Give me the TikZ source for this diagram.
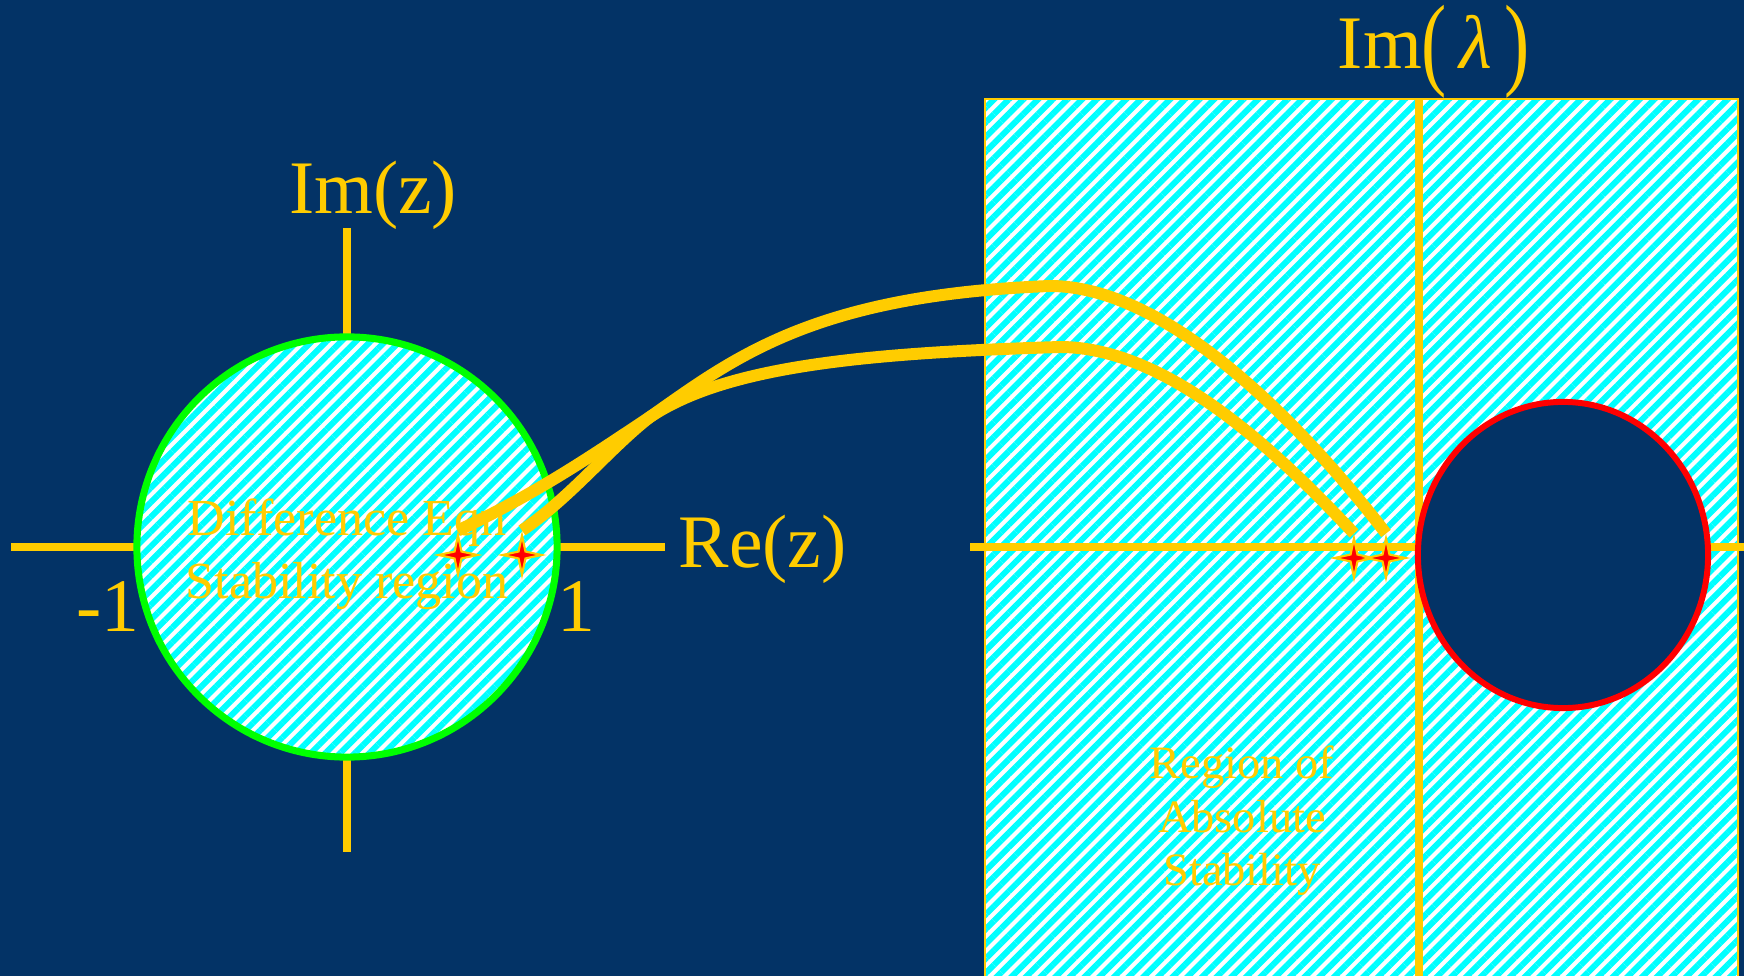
\documentclass[tikz,border=0pt]{standalone}
\usepackage{fontspec}
\setmainfont{Liberation Serif}
\usetikzlibrary{shapes.geometric,patterns.meta}
\definecolor{Navy}{RGB}{3,51,102}
\definecolor{Gold}{RGB}{255,204,0}
\definecolor{Aqua}{RGB}{0,255,255}
\newcommand{\tallparen}[1]{\raisebox{-2.4pt}{\scalebox{1}[1.36]{#1}}}
\tikzset{
  Hatch/.style={preaction={fill=white},
                pattern={Lines[angle=45,distance=2.95pt,line width=1.7pt]},
                pattern color=Aqua},
  Axis/.style={draw=Gold, line width=2pt},
  Lbl/.style={text=Gold, inner sep=0pt, font=\fontsize{21.5}{24}\selectfont},
  Note/.style={text=Gold, inner sep=0pt, align=center},
  Root/.style={star, star points=4, star point ratio=4, minimum size=0.39cm,
               inner sep=0pt, fill=red, draw=Gold, line width=0.6pt},
  Traj/.style={draw=Gold, line width=3.4pt}
}

\begin{document}
\begin{tikzpicture}[x=0.01cm, y=-0.01cm]
  \useasboundingbox (0,0) rectangle (1744,976);
  \fill[Navy] (0,0) rectangle (1744,976);

  % lambda plane
  \draw[Hatch, draw=Gold, line width=0.6pt] (985,99) rectangle (1738,990);
  \draw[Axis] (970,547) -- (1750,547);
  \draw[Axis] (1419,99) -- (1419,990);
  \node[ellipse, draw=red, line width=1.7pt, fill=Navy,
        minimum width=2.9cm, minimum height=3.06cm] (pole) at (1563,555) {};

  % z plane
  \draw[Axis] (11,547) -- (665,547);
  \draw[Axis] (347,228) -- (347,852);
  \node[circle, Hatch, draw=green, line width=2pt, minimum size=4.2cm] (unit) at (347,547) {};

  \node[Lbl] (imz) at (373,195) {Im(z)};
  \node[Lbl, anchor=west] (rez) at (678,549) {Re(z)};
  \node[Lbl] (mone) at (108,607) {-1};
  \node[Lbl] (one) at (576,607) {1};
  \node[Lbl] (imlam) at (1434,52)
    {Im\tallparen{(}\,\textit{λ}\,\tallparen{)}};
  \node[Note, font=\fontsize{14.8}{18}\selectfont] (deq) at (347,554)
    {Difference Eqn\\Stability region};
  \node[Note, font=\fontsize{13.2}{15.2}\selectfont] (ras) at (1242,821)
    {Region of\\Absolute\\Stability};

  % roots
  \node[Root] (zA) at (458,555) {};
  \node[Root] (zB) at (522,555) {};
  \node[Root] (lamA) at (1354,558) {};
  \node[Root] (lamB) at (1386,558) {};

  \draw[Traj] (zA.north) .. controls (540,492) and (600,450) .. (650,417)
    .. controls (725,367) and (860,353) .. (1060,347)
    .. controls (1170,347) and (1283,458) .. (lamA.north);
  \draw[Traj] (zB.north) .. controls (570,498) and (610,448) .. (650,417)
    .. controls (735,357) and (815,295) .. (1050,286)
    .. controls (1180,286) and (1325,454) .. (lamB.north);
\end{tikzpicture}
\end{document}
